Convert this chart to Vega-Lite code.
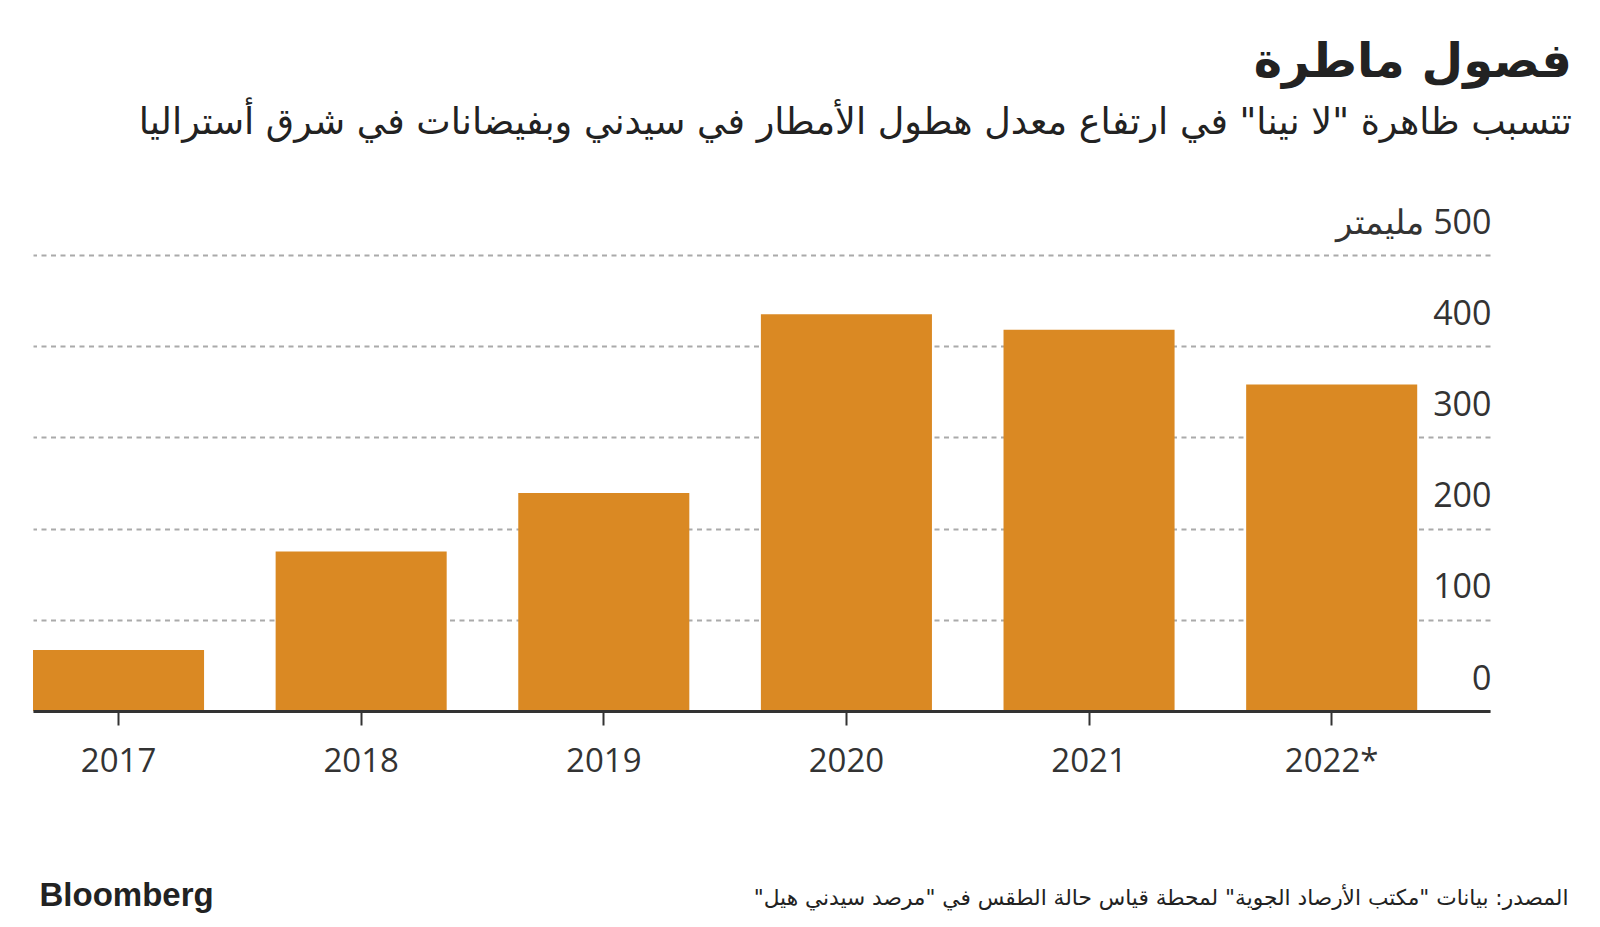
{
  "$schema": "https://vega.github.io/schema/vega-lite/v6.json",
  "autosize": "none",
  "width": 1457,
  "height": 456,
  "padding": {"left": 33, "top": 255, "right": 110, "bottom": 216},
  "background": "white",
  "config": {"view": {"stroke": null}},
  "title": {
    "text": "فصول ماطرة",
    "subtitle": "تتسبب ظاهرة \"لا نينا\" في ارتفاع معدل هطول الأمطار في سيدني وبفيضانات في شرق أستراليا",
    "anchor": "end",
    "align": "right",
    "frame": "group",
    "dx": 82,
    "offset": 64,
    "font": "DejaVu Sans",
    "fontSize": 48,
    "fontWeight": "bold",
    "color": "#222222",
    "subtitleFont": "DejaVu Sans",
    "subtitleFontSize": 36.6,
    "subtitleColor": "#222222",
    "subtitlePadding": 18
  },
  "data": {
    "values": [
      {"year": "2017", "rain": 67},
      {"year": "2018", "rain": 175},
      {"year": "2019", "rain": 239},
      {"year": "2020", "rain": 435},
      {"year": "2021", "rain": 418},
      {"year": "2022*", "rain": 358}
    ]
  },
  "mark": {"type": "bar", "color": "#DA8923"},
  "encoding": {
    "x": {
      "field": "year",
      "type": "nominal",
      "sort": null,
      "scale": {"paddingInner": 0.295, "paddingOuter": 0.15, "align": 0},
      "axis": {
        "title": "المصدر: بيانات \"مكتب الأرصاد الجوية\" لمحطة قياس حالة الطقس في \"مرصد سيدني هيل\"\u200f",
        "titleX": 1535,
        "titleY": 193,
        "titleAlign": "right",
        "titleBaseline": "alphabetic",
        "titleFont": "DejaVu Sans",
        "titleFontSize": 21.7,
        "titleFontWeight": "normal",
        "titleColor": "#222222",
        "labelAngle": 0,
        "labelFont": "Open Sans",
        "labelFontSize": 33,
        "labelColor": "#333333",
        "labelPadding": 20,
        "tickColor": "#333333",
        "tickSize": 14,
        "tickWidth": 2,
        "domainColor": "#333333",
        "domainWidth": 3,
        "grid": false,
        "zindex": 1
      }
    },
    "y": {
      "field": "rain",
      "type": "quantitative",
      "scale": {"domain": [0, 500], "nice": false},
      "axis": {
        "orient": "right",
        "values": [0, 100, 200, 300, 400, 500],
        "labelExpr": "datum.value == 500 ? 'مليمتر \u200e500' : datum.label",
        "title": "Bloomberg",
        "titleX": -1451,
        "titleY": 650,
        "titleAngle": 0,
        "titleAlign": "left",
        "titleBaseline": "alphabetic",
        "titleFont": "Liberation Sans",
        "titleFontSize": 33,
        "titleFontWeight": "bold",
        "titleColor": "#222222",
        "labelAlign": "right",
        "labelBaseline": "alphabetic",
        "labelOffset": -22,
        "labelPadding": 1,
        "labelFont": "Open Sans",
        "labelFontSize": 34,
        "labelColor": "#333333",
        "ticks": false,
        "tickSize": 0,
        "domain": false,
        "grid": true,
        "gridColor": "#AAAAAA",
        "gridWidth": 2,
        "gridDash": [5, 4.5],
        "zindex": 0
      }
    }
  }
}
